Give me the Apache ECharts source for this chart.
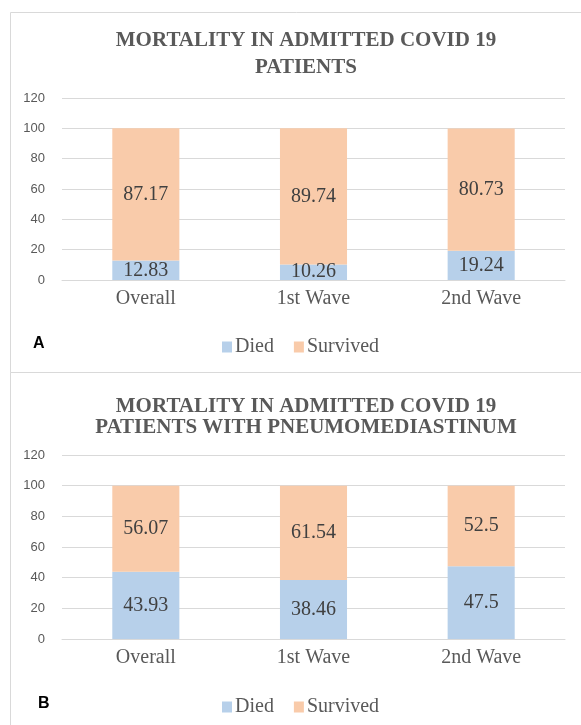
<!DOCTYPE html>
<html><head><meta charset="utf-8">
<script src="https://cdn.jsdelivr.net/npm/echarts@6/dist/echarts.min.js"></script>
<style>html,body{margin:0;padding:0;background:#fff}#c{width:581px;height:725px}</style>
</head><body><div id="c"></div>
<script>
const categories = ['Overall', '1st Wave', '2nd Wave'];
const diedA = [12.83, 10.26, 19.24];
const survivedA = [87.17, 89.74, 80.73];
const diedB = [43.93, 38.46, 47.5];
const survivedB = [56.07, 61.54, 52.5];
const yTicks = [0, 20, 40, 60, 80, 100, 120];
const titleA = 'MORTALITY IN ADMITTED COVID 19\nPATIENTS';
const titleB = 'MORTALITY IN ADMITTED COVID 19\nPATIENTS WITH PNEUMOMEDIASTINUM';

const cDied = '#b7d0ea', cSurv = '#f9cbaa';
const serif = '"Liberation Serif", "Times New Roman", serif';
const chart = echarts.init(document.getElementById('c'), null, {renderer: 'canvas'});

function yAxis(idx) {
  return {gridIndex: idx, type: 'value', min: yTicks[0], max: yTicks[yTicks.length-1], interval: 20,
    axisLine: {show: false}, axisTick: {show: false},
    axisLabel: {margin: 17, fontFamily: '"Liberation Sans", sans-serif', fontSize: 13, color: '#595959'},
    splitLine: {lineStyle: {color: '#d9d9d9', width: 1}}};
}
function xAxis(idx) {
  return {gridIndex: idx, type: 'category', data: categories,
    axisLine: {lineStyle: {color: '#d9d9d9'}}, axisTick: {show: false},
    axisLabel: {margin: 9, fontFamily: serif, fontSize: 20, color: '#595959'}};
}
function series(name, data, idx, color) {
  return {name: name, type: 'bar', stack: 's' + idx, xAxisIndex: idx, yAxisIndex: idx,
    data: data, barWidth: '40%', itemStyle: {color: color},
    label: {show: true, position: 'inside', fontFamily: serif, fontSize: 20, color: '#404040'}};
}
const titleStyleA = {fontFamily: serif, fontWeight: 'bold', fontSize: 21, color: '#595959', lineHeight: 27};
const titleStyleB = {fontFamily: serif, fontWeight: 'bold', fontSize: 21, color: '#595959', lineHeight: 21};
const legendBase = {itemWidth: 10, itemHeight: 11, itemGap: 20, icon: 'rect',
  textStyle: {fontFamily: serif, fontSize: 20, color: '#595959', padding: [0,0,0,-2]}, selectedMode: false};

chart.setOption({
  animation: false,
  title: [
    {text: titleA, left: 301, top: 22, textAlign: 'center', textStyle: titleStyleA},
    {text: titleB, left: 301, top: 391, textAlign: 'center', textStyle: titleStyleB}
  ],
  legend: [
    Object.assign({data: ['Died', 'Survived'], left: 217, top: 332}, legendBase),
    Object.assign({data: ['Died', 'Survived'], left: 217, top: 692}, legendBase)
  ],
  grid: [
    {left: 62, right: 16, top: 98, height: 182},
    {left: 62, right: 16, top: 455, height: 184}
  ],
  xAxis: [xAxis(0), xAxis(1)],
  yAxis: [yAxis(0), yAxis(1)],
  series: [
    series('Died', diedA, 0, cDied), series('Survived', survivedA, 0, cSurv),
    series('Died', diedB, 1, cDied), series('Survived', survivedB, 1, cSurv)
  ],
  graphic: [
    {type: 'rect', shape: {x: 10.5, y: 12.5, width: 600, height: 360}, style: {fill: 'none', stroke: '#d9d9d9', lineWidth: 1}, silent: true},
    {type: 'rect', shape: {x: 10.5, y: 372.5, width: 600, height: 400}, style: {fill: 'none', stroke: '#d9d9d9', lineWidth: 1}, silent: true},
    {type: 'text', left: 33, top: 336, style: {text: 'A', font: 'bold 16px "Liberation Sans", sans-serif', fill: '#000'}},
    {type: 'text', left: 38, top: 696, style: {text: 'B', font: 'bold 16px "Liberation Sans", sans-serif', fill: '#000'}}
  ]
});
</script></body></html>
